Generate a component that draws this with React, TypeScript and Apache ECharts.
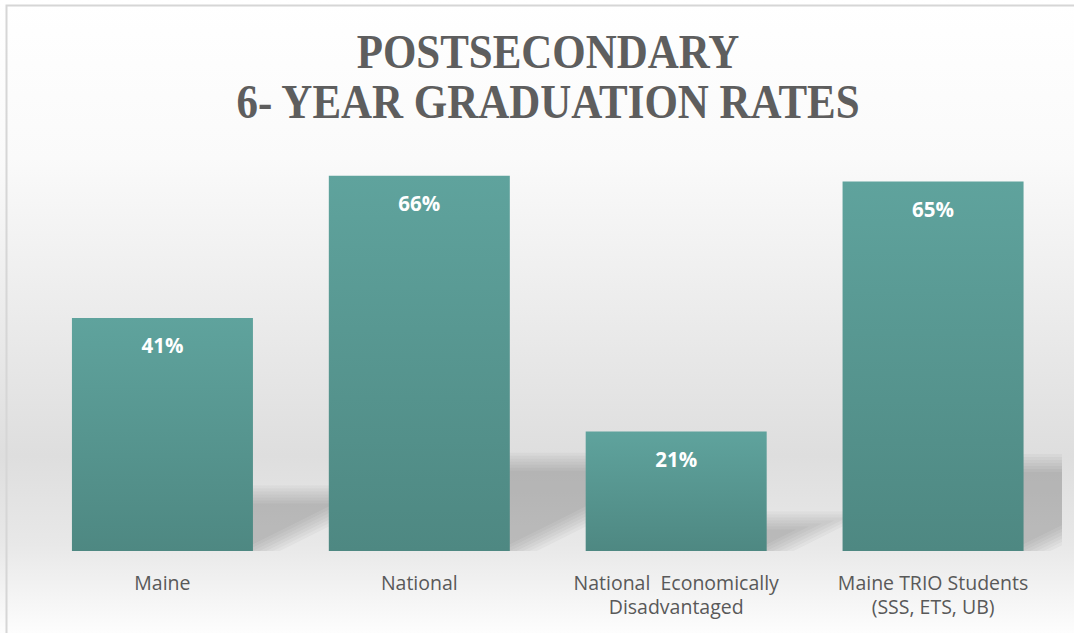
import React, { useEffect, useRef } from "react";
import * as echarts from "echarts";

const categories = [
  "Maine",
  "National",
  "National  Economically\nDisadvantaged",
  "Maine TRIO Students\n(SSS, ETS, UB)",
];
const rates = [41, 66, 21, 65];
const titleLines = ["POSTSECONDARY", "6- YEAR GRADUATION RATES"];

export default function App() {
  const ref = useRef<HTMLDivElement>(null);
  useEffect(() => {
    if (!ref.current) return;
    const chart = echarts.init(ref.current, undefined, { renderer: "svg" });
    const barW = 181;
    chart.setOption({
      animation: false,
      backgroundColor: new echarts.graphic.LinearGradient(0, 0, 0, 1, [
        { offset: 0, color: "#ffffff" },
        { offset: 0.25, color: "#fafafa" },
        { offset: 0.72, color: "#dedede" },
        { offset: 0.86, color: "#e8e8e8" },
        { offset: 1, color: "#fdfdfd" },
      ]),
      graphic: [
        {
          type: "rect",
          shape: { x: 6.5, y: 5.5, width: 1200, height: 700 },
          style: { fill: "none", stroke: "#d6d6d6", lineWidth: 2 },
          silent: true,
          z: 10,
        },
        ...titleLines.map((t, i) => ({
          type: "text",
          x: 548,
          y: 52 + i * 50,
          scaleX: 0.895,
          style: {
            text: t,
            fill: "#5e5e5e",
            font: "bold 48px 'Liberation Serif', 'DejaVu Serif', serif",
            textAlign: "center",
            textVerticalAlign: "middle",
          },
          z: 10,
        })),
      ],
      grid: { left: 34, right: 12.5, top: 153, bottom: 82, containLabel: false },
      xAxis: {
        type: "category",
        data: categories,
        axisLine: { show: false },
        axisTick: { show: false },
        axisLabel: {
          color: "#595959",
          fontSize: 19.5,
          fontFamily: "'Open Sans', 'Noto Sans', sans-serif",
          lineHeight: 24.5,
          margin: 19,
          interval: 0,
        },
      },
      yAxis: {
        type: "value",
        min: 0,
        max: 70,
        show: false,
        splitLine: { show: false },
      },
      series: [
        {
          type: "custom",
          clip: true,
          z: 1,
          silent: true,
          data: rates.map((v, i) => [i, v]),
          encode: { x: 0, y: 1 },
          renderItem: (params: any, api: any) => {
            const idx = api.value(0);
            const val = api.value(1);
            const top = api.coord([idx, val]);
            const base = api.coord([idx, 0]);
            const h = base[1] - top[1];
            const dy = 0.23 * h;
            const dx = 2 * dy;
            const left = base[0] - barW / 2;
            const right = base[0] + barW / 2;
            const layers = [-6, -3, 0, 3, 6, 9, 12];
            return {
              type: "group",
              children: layers.map((e) => ({
                type: "polygon",
                shape: {
                  points: [
                    [left, base[1]],
                    [right + 2.236 * e, base[1]],
                    [right + 2.236 * e + 2 * (dy + e), base[1] - dy - e],
                    [left + dx, base[1] - dy - e],
                  ],
                },
                style: { fill: "rgba(70,70,70,0.045)" },
              })),
            };
          },
        },
        {
          type: "bar",
          z: 2,
          data: rates,
          barWidth: barW,
          itemStyle: {
            color: new echarts.graphic.LinearGradient(0, 0, 0, 1, [
              { offset: 0, color: "#5fa39d" },
              { offset: 1, color: "#4e8882" },
            ]),
          },
          label: {
            show: true,
            position: "insideTop",
            distance: 17,
            formatter: "{c}%",
            color: "#ffffff",
            fontSize: 20.5,
            fontWeight: "bold",
            fontFamily: "'Open Sans', 'Noto Sans', sans-serif",
          },
        },
      ],
    });
    return () => chart.dispose();
  }, []);
  return (
    <div
      ref={ref}
      style={{ position: "fixed", left: 0, top: 0, width: 1074, height: 633 }}
    />
  );
}
